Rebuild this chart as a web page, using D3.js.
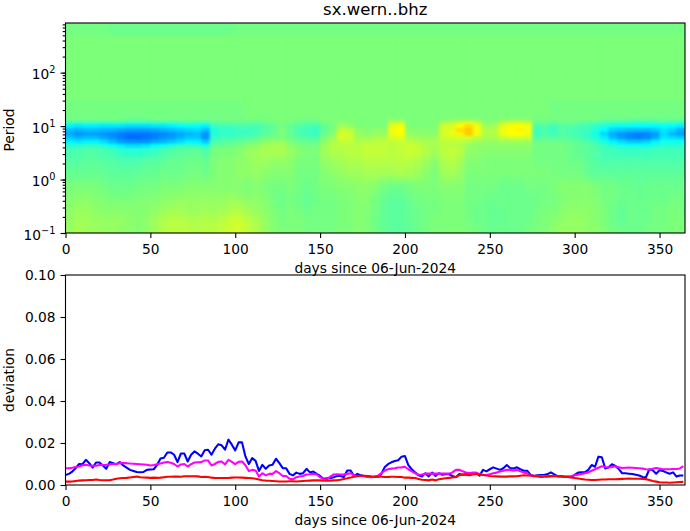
<!DOCTYPE html>
<html>
<head>
<meta charset="utf-8">
<script src="https://cdn.jsdelivr.net/npm/d3@7"></script>
<style>
  body { margin: 0; background: #fff; }
  text { font-family: "DejaVu Sans", sans-serif; fill: #000; }
</style>
</head>
<body>
<script>
var w = 690;
var h = 531;

var title = "sx.wern..bhz";
var xLabel = "days since 06-Jun-2024";
var dayTicks = [0, 50, 100, 150, 200, 250, 300, 350];
var devTicks = [0, 0.02, 0.04, 0.06, 0.08, 0.1];
var periodTicks = [0.1, 1, 10, 100];

// heatmap: one column every 5 days, rows are period bands from long to short
var periodEdges = [850, 500, 100, 30, 15, 12.6, 11, 9.3, 7.8, 6.6, 5.6, 4.7, 3.9, 2.9, 1.9, 1.0, 0.52, 0.34, 0.22, 0.14, 0.1];
var heatDays = d3.range(0, 365, 5);
var heatRows = [
  [49,49,49,49, 49,48,48,48, 48,48,48,48, 48,48,48,48, 48,48,48,48, 49,49,49,49, 49,49,49,49, 49,49,49,49, 49,49,49,49, 49,49,49,49, 49,49,49,49, 49,49,49,49, 49,49,49,49, 49,49,49,49, 49,49,49,49, 49,49,49,49, 49,49,49,49, 49,49,49,49, 49],
  [50,50,50,50, 50,50,50,50, 50,50,50,50, 50,50,50,50, 50,50,50,50, 50,50,50,50, 50,50,50,50, 50,50,50,50, 50,50,50,50, 50,50,50,50, 50,50,50,50, 50,50,50,50, 50,50,50,50, 50,50,50,50, 50,50,50,50, 50,50,50,50, 50,50,50,50, 50],
  [50,50,50,50, 50,50,50,50, 50,50,50,50, 50,50,50,50, 50,50,50,50, 50,50,50,50, 50,50,50,50, 50,50,50,50, 50,50,50,50, 50,50,50,50, 50,50,50,50, 50,50,50,50, 50,50,50,50, 50,50,50,50, 50,50,50,50, 50,50,50,50, 50],
  [49,49,49,49, 49,49,49,49, 49,49,49,49, 49,49,49,49, 49,49,49,49, 49,50,50,50, 50,50,50,50, 50,50,50,50, 50,50,50,50, 50,50,50,50, 50,50,50,50, 50,50,50,50, 50,50,50,50, 50,50,50,50, 50,49,49,49, 49,49,49,49, 49,49,49,49, 49],
  [49,49,49,49, 49,49,49,48, 48,48,49,49, 49,49,49,49, 49,49,49,49, 49,49,49,49, 50,50,50,49, 49,49,50,50, 50,50,50,50, 50,50,51,51, 50,50,50,50, 50,51,51,51, 51,50,50,51, 51,51,51,49, 49,49,49,49, 49,49,49,48, 48,48,48,48, 48,48,48,48, 48],
  [43,43,43,43, 43,43,43,42, 42,42,43,43, 43,44,44,44, 43,46,47,47, 47,47,47,48, 49,50,49,48, 47,47,49,50, 52,51,50,50, 50,50,57,58, 50,50,50,50, 55,57,60,62, 58,52,52,56, 60,60,58,48, 48,47,48,48, 47,46,45,44, 43,43,42,42, 42,42,43,43, 42],
  [34,33,34,34, 33,33,33,32, 32,32,33,33, 34,35,36,36, 34,42,43,43, 44,44,44,45, 47,49,47,45, 44,43,47,49, 54,53,50,50, 50,50,62,64, 50,50,50,50, 59,60,65,68, 63,54,54,62, 64,65,63,44, 45,43,45,45, 44,43,41,39, 37,36,36,35, 35,35,36,35, 34],
  [29,28,29,29, 28,28,27,26, 26,26,27,28, 29,30,31,32, 29,39,41,41, 42,42,43,45, 47,50,47,44, 43,42,47,50, 58,57,52,51, 52,52,63,65, 52,51,51,51, 60,62,68,70, 64,56,56,63, 65,66,64,43, 44,42,45,44, 43,42,39,35, 31,30,29,29, 29,30,33,31, 28],
  [27,25,26,26, 25,24,23,22, 22,22,23,24, 25,27,28,29, 25,39,41,41, 42,42,44,46, 48,50,47,44, 43,42,48,51, 61,59,53,52, 53,53,63,65, 53,52,52,52, 60,62,66,70, 63,56,56,63, 65,65,63,43, 44,43,45,44, 43,41,37,31, 27,25,24,23, 24,26,32,28, 26],
  [30,28,29,29, 27,25,23,21, 21,22,23,25, 26,28,30,30, 25,41,43,43, 44,45,46,48, 49,50,48,46, 45,44,50,53, 60,59,54,54, 55,55,60,62, 55,54,53,53, 59,60,60,60, 58,55,55,58, 60,60,59,45, 46,45,46,45, 44,42,39,34, 29,26,24,23, 24,27,33,32, 31],
  [34,33,34,34, 32,29,26,25, 25,25,27,28, 30,32,34,34, 30,44,45,46, 47,48,49,52, 53,53,50,48, 47,47,52,56, 58,58,56,56, 57,58,58,59, 57,56,55,55, 57,58,58,56, 54,53,53,54, 54,54,54,48, 48,48,48,47, 46,44,42,38, 34,32,30,30, 31,34,37,37, 37],
  [40,40,41,41, 39,36,34,32, 32,33,35,37, 39,41,42,41, 38,47,47,48, 49,51,52,54, 55,55,52,50, 49,49,54,56, 57,57,57,58, 58,58,57,58, 59,58,56,55, 57,57,56,53, 52,52,52,52, 52,52,52,49, 49,49,49,48, 47,46,44,42, 40,38,37,37, 37,39,40,40, 40],
  [44,44,45,45, 44,43,41,40, 40,41,42,44, 45,46,46,47, 45,49,50,50, 51,53,54,55, 55,55,53,51, 50,50,54,56, 56,57,57,58, 58,58,57,58, 59,58,56,54, 57,58,57,52, 52,51,51,51, 51,51,51,49, 49,49,49,48, 47,46,45,43, 43,42,42,42, 42,43,43,43, 43],
  [45,45,46,46, 45,45,44,44, 44,45,45,46, 47,47,48,48, 47,50,51,51, 52,53,54,54, 53,53,52,50, 50,50,53,54, 55,56,56,57, 57,57,57,57, 57,56,54,52, 56,57,55,51, 51,50,50,50, 50,50,50,49, 49,49,49,48, 48,46,45,44, 44,44,44,44, 44,44,44,44, 44],
  [47,47,47,47, 47,46,46,46, 46,47,47,48, 48,48,49,49, 48,50,51,51, 52,52,53,52, 51,51,51,49, 49,49,51,52, 53,54,54,55, 55,55,55,56, 55,54,52,50, 54,55,53,50, 50,50,50,50, 50,50,50,50, 50,49,49,49, 49,47,46,46, 46,46,46,46, 46,46,46,46, 46],
  [50,50,50,50, 49,48,48,48, 49,49,49,50, 50,50,51,51, 51,51,51,51, 51,50,51,50, 49,49,50,49, 48,49,50,50, 51,51,52,52, 51,49,48,48, 49,50,50,50, 51,51,51,49, 49,49,49,48, 48,48,49,49, 49,50,51,51, 51,51,50,49, 49,48,48,47, 48,48,48,48, 48,48,48,48, 48],
  [51,52,52,51, 51,50,50,50, 50,51,51,52, 52,53,53,53, 53,53,53,54, 53,52,52,51, 49,48,49,48, 47,48,49,49, 50,50,51,51, 49,47,46,46, 48,49,49,49, 50,50,50,49, 49,48,48,48, 48,48,48,48, 49,49,50,51, 51,51,51,49, 49,48,48,48, 48,48,48,49, 49],
  [52,53,53,52, 51,51,51,51, 51,51,52,53, 54,54,53,53, 54,53,54,55, 56,54,53,52, 50,49,50,49, 48,49,49,49, 50,50,51,51, 49,47,46,46, 47,48,49,49, 50,50,50,49, 48,48,47,48, 48,48,48,49, 50,50,51,52, 52,52,51,50, 48,47,48,48, 48,49,49,50, 49],
  [53,54,54,53, 53,53,53,52, 51,52,54,56, 57,57,56,56, 56,56,57,59, 59,57,55,53, 51,49,50,50, 49,49,49,49, 50,50,51,50, 48,47,46,46, 47,48,49,50, 50,50,50,49, 48,48,47,47, 48,48,48,49, 50,51,52,53, 53,52,51,50, 48,47,48,48, 48,49,49,50, 50],
  [53,55,54,54, 53,53,52,52, 51,52,54,56, 57,57,57,56, 57,57,58,59, 60,58,56,53, 51,50,50,50, 49,49,49,49, 50,50,51,51, 49,47,46,46, 47,48,49,50, 50,50,50,50, 49,48,48,48, 48,48,49,50, 50,52,53,53, 53,52,52,50, 49,48,48,48, 49,49,49,50, 50]
];
var sharpRows = 13; // rows down to the band's lower edge keep a small blur

// deviation curves: one value every 2 days, in units of 0.001
var blueDev = [4.8,5.3,6.4,8,10,9.9,12,10.4,8.3,10.7,10.7,9.3,7.7,10.9,10.4,9.9,10.9,9.3,8.3,7.2,6.7,6.2,6.1,6.2,7.2,7.4,7.5,9.6,12.6,13,15.5,15.5,14.4,10.9,15,15,11.2,14.4,16,14.9,13.6,16.5,16.8,14.4,17.3,19.4,18.9,16.8,21.6,19.2,16.5,20.3,20.3,13.6,10,12.8,11.5,6.7,9.6,7.7,9.3,9.6,12.5,10.4,8,8,5.3,4.6,5.9,5.3,5.6,7.7,6,6.4,5.3,4.3,3,3.2,3.2,3.7,4.3,4.3,3.8,6.9,6.9,4.3,5.3,4.6,4.3,4.1,3.8,3.8,4,5.1,8.4,9.9,10.8,11.4,11.8,13.5,13.8,9.5,7.5,6,4.6,4.1,5.6,4.1,5.9,4.3,5.6,4.9,5.1,5.1,4.3,3.7,5.2,4.9,5.2,5.4,5.4,5.6,4.5,7.2,6.5,7.5,8.4,7.8,7.2,8,9.5,8.1,7.9,8.4,7.5,6.8,6.8,4.8,4.3,4.6,4.8,4.8,5.2,6,5.1,4.1,4.3,3.8,3.8,3.7,4.8,5.9,6,6,7.2,9.5,8.7,13.5,13.2,7.9,8.4,9.9,9.1,7.6,5.6,5.6,5.4,5.2,4.9,4.5,3.8,3.7,7.5,7,5.4,7,6.7,6,5.4,6,4,4.5,4.5];
var magentaDev = [8,8,8.2,8.6,8.8,9.4,9.6,9.3,9.2,9.2,9.5,9.5,9.6,9.8,10,10,10.4,10.4,10.4,10.2,10.1,10,9.9,9.8,9.6,9.3,9.5,9.9,10.2,10.7,11,10.6,10,8.8,9.8,10,8.8,9.9,10.7,10.8,10.9,11.7,11.7,9.3,10,11,11.2,9.8,12,11,9.9,11,11.2,9.4,6.7,7.2,6.9,4,5.6,4.6,5.3,5.3,6.6,5.6,4.3,4.3,3,2.7,3.7,4,4.3,5,5.1,5.3,5,3.7,2.9,2.7,4,5,5.1,5,5,5.3,5.6,4.6,4.3,4.3,4.2,3.8,3.7,3.8,4.4,5.6,6.8,7.5,7.8,8,8.3,8.4,8.7,7.5,6.5,5.6,4.9,5,5.4,5.4,5.4,5.4,5.4,5.4,5.4,5.4,6,7.2,7.3,6.5,6,5.7,5.9,5.9,5.2,4.8,4.8,5.1,5.6,5.9,6.4,6.8,7.2,7.2,6.8,7.2,6.5,5.9,5.6,4.5,4.1,4.3,4.3,4.3,4.3,4.3,4.3,4.2,4.1,4.1,4.1,4.3,4.6,4.9,5.2,5.6,6,6.8,7.5,8.2,8.9,8.6,8.4,8.6,8.9,8.5,8.1,8.2,8.3,8.2,8.1,8,7.8,7.5,7.3,7.7,8.1,7.8,7.5,7.5,7.5,7.6,7.6,7.9,9];
var redDev = [
  1.6,1.6,1.7,1.9,2.1,2.2,2.3,2.4,2.4,2.6,
  2.4,2.3,2.3,2.3,2.6,3,3.2,3.3,3.4,3.6,
  3.8,4,3.7,3.6,3.5,3.4,3.5,3.4,3.5,3.7,
  3.9,3.9,4,4,3.9,4.2,4.2,4.2,4.2,4.1,
  3.8,3.9,3.8,3.5,3.3,3.3,3.3,3.3,3.3,3.5,
  3.6,3.6,3.5,3.4,3.3,3.2,3,2.6,2.3,2.1,
  2,1.9,1.8,1.7,1.7,1.7,1.8,1.8,1.7,1.8,
  1.9,2,2.1,2.2,2.3,2.2,2.1,2,2.1,2.2,
  2.3,2.5,2.9,3.2,3.6,3.9,4.2,4.4,4.4,4.3,
  4.1,4,3.9,3.9,3.8,3.8,3.9,3.9,3.8,3.8,
  3.5,3.5,3.4,3.3,2.9,2.5,2.4,2.2,2.6,2.2,
  2.7,3,3.2,3.4,3.6,3.8,4.6,5,4.8,4.6,
  5,5.3,5,4.8,4.5,4.3,4.2,4.1,4,4,
  4,4.1,4.1,4.2,4.4,4.6,4.5,4.5,4.4,4.1,
  3.8,3.9,4,4.1,4.2,4.2,4.1,3.9,3.8,3.6,
  3.3,3.1,2.9,2.6,2.5,2.4,2.4,2.5,2.6,2.6,
  2.7,2.7,2.7,2.8,2.9,3,3.1,3,3,3,
  2.9,2.8,2.4,1.9,1.6,1.3,1.2,1.2,1.1,1.2,
  1.3,1.4,1.5
];
var curves = [
  { values: blueDev, color: "#0000ff" },
  { values: magentaDev, color: "#ff00ff" },
  { values: redDev, color: "#ff0000" }
];

var left = 65.5, right = 685;
var topA = 23, botA = 233, topB = 275, botB = 485;

var svg = d3.select("body")
  .append("svg")
  .attr("width", w)
  .attr("height", h)
  .style("display", "block");

var x = d3.scaleLinear().domain([0, 365]).range([left, right]);
var yPeriod = d3.scaleLog().domain([0.1, 850]).range([botA, topA]);
var yDev = d3.scaleLinear().domain([0, 0.1]).range([botB, topB]);

// jet colormap
var jet = d3.scaleLinear()
  .domain([0, 11, 35, 50, 65, 89, 100])
  .range(["#00007f", "#0000ff", "#00ffff", "#7cff79", "#ffff00", "#ff0000", "#7f0000"]);

var defs = svg.append("defs");
defs.append("clipPath").attr("id", "heatClip")
  .append("rect")
  .attr("x", left).attr("y", topA)
  .attr("width", right - left).attr("height", botA - topA);

function addBlur(id, dev) {
  defs.append("filter").attr("id", id)
    .attr("x", "-5%").attr("y", "-10%").attr("width", "110%").attr("height", "120%")
    .attr("color-interpolation-filters", "sRGB")
    .append("feGaussianBlur").attr("stdDeviation", dev);
}
addBlur("softWide", "1.8 5");
addBlur("softBand", "1.8 1.2");

var heatClip = svg.append("g").attr("clip-path", "url(#heatClip)");

function drawHeat(count, filterId) {
  var layer = heatClip.append("g").attr("filter", "url(#" + filterId + ")");
  layer.selectAll("g")
    .data(heatRows.slice(0, count))
    .enter()
    .append("g")
    .each(function (row, r) {
      // outer cells run past the axes so the blur does not fade at the border
      var y0 = yPeriod(periodEdges[r]) - (r == 0 ? 14 : 0);
      var y1 = yPeriod(periodEdges[r + 1]) + (r == heatRows.length - 1 ? 14 : 0);
      d3.select(this).selectAll("rect")
        .data(row)
        .enter()
        .append("rect")
        .attr("x", (d, i) => x(heatDays[i]) - (i == 0 ? 14 : 0))
        .attr("y", y0)
        .attr("width", (d, i) => {
          if (i == 0) { return x(5) - x(0) + 14.5; }
          if (i == row.length - 1) { return right - x(heatDays[i]) + 14; }
          return x(5) - x(0) + 0.5;
        })
        .attr("height", y1 - y0 + 0.5)
        .attr("fill", (d) => jet(d));
    });
}
drawHeat(heatRows.length, "softWide");
drawHeat(sharpRows, "softBand");

var line = d3.line()
  .x((d, i) => x(i * 2))
  .y((d) => yDev(d / 1000));

svg.selectAll(".curve")
  .data(curves)
  .enter()
  .append("path")
  .attr("class", "curve")
  .attr("d", (d) => line(d.values))
  .attr("fill", "none")
  .attr("stroke", (d) => d.color)
  .attr("stroke-width", 2.08)
  .attr("stroke-linejoin", "round");

function styleAxis(g) {
  g.select(".domain").remove();
  g.selectAll("line").attr("stroke", "#000").attr("stroke-width", 1.1);
  g.selectAll("text").attr("font-size", 13.75).attr("font-family", "DejaVu Sans, sans-serif").attr("fill", "#000");
}

function bottomAxis(yPos) {
  var g = svg.append("g")
    .attr("transform", "translate(0," + yPos + ")")
    .call(d3.axisBottom(x).tickValues(dayTicks).tickSize(5).tickPadding(6).tickFormat(d3.format("d")));
  styleAxis(g);
}
bottomAxis(botA);
bottomAxis(botB);

var gDev = svg.append("g")
  .attr("transform", "translate(" + left + ",0)")
  .call(d3.axisLeft(yDev).tickValues(devTicks).tickSize(5).tickPadding(5).tickFormat(d3.format(".2f")));
styleAxis(gDev);

// log axis: minor ticks first, then the decades with superscript labels
var gMinor = svg.append("g")
  .attr("transform", "translate(" + left + ",0)")
  .call(d3.axisLeft(yPeriod).tickValues(yPeriod.ticks()).tickSize(2.8).tickFormat(""));
styleAxis(gMinor);

var gPeriod = svg.append("g")
  .attr("transform", "translate(" + left + ",0)")
  .call(d3.axisLeft(yPeriod).tickValues(periodTicks).tickSize(5).tickPadding(5).tickFormat(""));
styleAxis(gPeriod);

gPeriod.selectAll(".tick text").each(function (d) {
  var t = d3.select(this);
  var e = Math.round(Math.log10(d));
  t.attr("dy", "0.45em");
  t.append("tspan").text("10");
  t.append("tspan")
    .attr("dy", -6)
    .attr("font-size", 9.8)
    .text(e < 0 ? "\u2212" + (-e) : e);
});

[[topA, botA], [topB, botB]].forEach((p) => {
  svg.append("rect")
    .attr("x", left).attr("y", p[0])
    .attr("width", right - left).attr("height", p[1] - p[0])
    .attr("fill", "none")
    .attr("stroke", "#000")
    .attr("stroke-width", 1.1);
});

svg.append("text")
  .text(title)
  .attr("x", (left + right) / 2)
  .attr("y", 15)
  .attr("text-anchor", "middle")
  .attr("font-size", 16.5);

[273, 525].forEach((yy) => {
  svg.append("text")
    .text(xLabel)
    .attr("x", (left + right) / 2)
    .attr("y", yy)
    .attr("text-anchor", "middle")
    .attr("font-size", 13.75);
});

[["Period", 130], ["deviation", 380]].forEach((d) => {
  svg.append("text")
    .text(d[0])
    .attr("transform", "translate(14," + d[1] + ") rotate(-90)")
    .attr("text-anchor", "middle")
    .attr("font-size", 13.75);
});
</script>
</body>
</html>
